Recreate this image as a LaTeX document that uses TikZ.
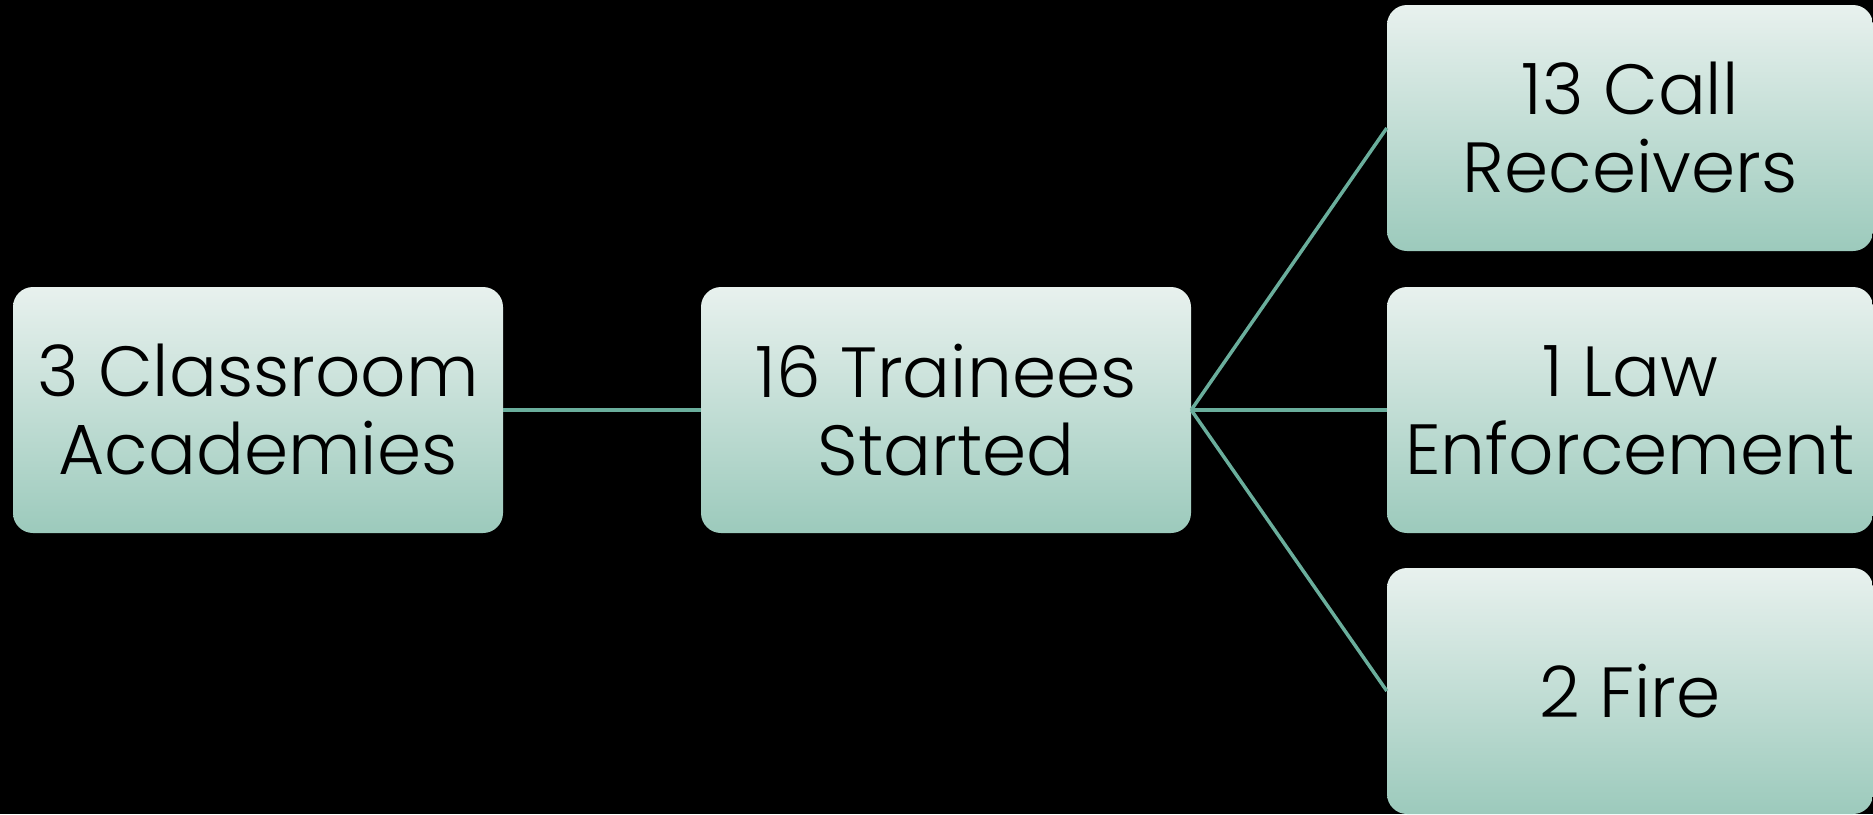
\documentclass[tikz,border=0pt]{standalone}
\usepackage{fontspec}
\setmainfont{Poppins}[UprightFont=* Light]
\definecolor{boxtop}{HTML}{E8F1EE}
\definecolor{boxbot}{HTML}{9CCABC}
\definecolor{linkc}{HTML}{6AAE9C}
\tikzset{
  stagebox/.style={rounded corners=20pt, top color=boxtop, bottom color=boxbot,
    draw=none, minimum width=490pt, minimum height=246pt, inner sep=0pt,
    align=center, text=black, font=\fontsize{71}{78}\selectfont},
  link/.style={draw=linkc, line width=3.5pt}
}
\begin{document}
\begin{tikzpicture}[x=1pt,y=1pt]
  \fill[black] (0,0) rectangle (1873,-814);
  \useasboundingbox (0,0) rectangle (1873,-814);
  \node[stagebox] (acad) at (258,-410) {3 Classroom\\Academies};
  \node[stagebox] (train) at (946,-410) {16 Trainees\\Started};
  \node[stagebox, minimum width=486pt] (call) at (1630,-128) {13 Call\\Receivers};
  \node[stagebox, minimum width=486pt] (law) at (1630,-410) {1 Law\\Enforcement};
  \node[stagebox, minimum width=486pt] (fire) at (1630,-691) {2 Fire};
  \draw[link] (acad.east) -- (train.west);
  \draw[link] (train.east) -- (call.west);
  \draw[link] (train.east) -- (law.west);
  \draw[link] (train.east) -- (fire.west);
\end{tikzpicture}
\end{document}
